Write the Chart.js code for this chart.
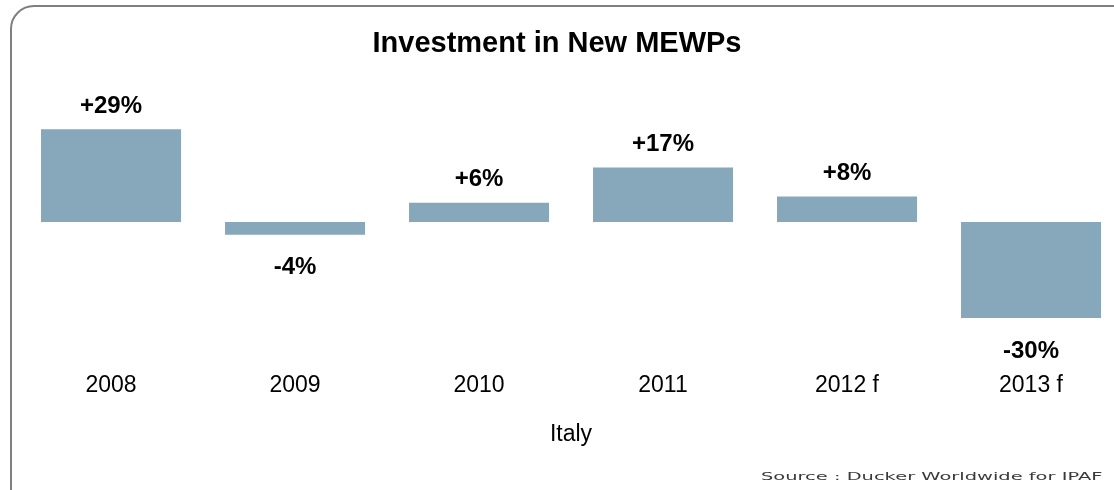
<!DOCTYPE html>
<html>
<head>
<meta charset="utf-8">
<script src="https://cdn.jsdelivr.net/npm/chart.js@4"></script>
<style>
    html, body { margin: 0; padding: 0; background: #fff; overflow: hidden; }
    #wrap { position: relative; width: 1114px; height: 490px; overflow: hidden; }
    #frame {
        position: absolute; left: 10px; top: 5px; width: 1140px; height: 520px;
        border: 2px solid #7f7f7f; border-radius: 24px; box-sizing: border-box;
    }
    #title {
        position: absolute; left: 0; top: 28px; width: 1114px; text-align: center;
        font: bold 29px "Liberation Sans", Arial, sans-serif; line-height: 29px; color: #000;
    }
    #source {
        position: absolute; left: 761px; top: 471px; white-space: nowrap;
        font: 11px "DejaVu Sans", sans-serif; line-height: 12px; color: #3a3a3a;
        transform-origin: left center;
    }
    canvas { position: absolute; left: 0; top: 0; }
</style>
</head>
<body>
<div id="wrap">
    <div id="frame"></div>
    <canvas id="mewpChart" width="1142" height="490"></canvas>
    <div id="title">Investment in New MEWPs</div>
    <div id="source">Source : Ducker Worldwide for IPAF</div>
</div>
<script>
const years = ['2008', '2009', '2010', '2011', '2012 f', '2013 f'];
const growth = [29, -4, 6, 17, 8, -30];
const countryLabel = 'Italy';

// value labels above / below each bar
const valueLabels = {
    id: 'valueLabels',
    afterDatasetsDraw(chart) {
        const ctx = chart.ctx;
        const meta = chart.getDatasetMeta(0);
        ctx.save();
        ctx.font = 'bold 24px "Liberation Sans", Arial, sans-serif';
        ctx.fillStyle = '#000';
        ctx.textAlign = 'center';
        ctx.textBaseline = 'middle';
        meta.data.forEach((bar, i) => {
            const v = growth[i];
            const text = (v > 0 ? '+' : '') + v + '%';
            const y = v >= 0 ? bar.y - 23 : bar.y + 33;
            ctx.fillText(text, bar.x, y);
        });
        ctx.restore();
    }
};

const ctx = document.getElementById('mewpChart').getContext('2d');
new Chart(ctx, {
    type: 'bar',
    data: {
        labels: years,
        datasets: [{
            data: growth,
            backgroundColor: '#87a7ba',
            borderWidth: 0,
            barPercentage: 0.761,
            categoryPercentage: 1
        }]
    },
    options: {
        responsive: false,
        animation: false,
        layout: {
            padding: { left: 19, right: 19, top: 110, bottom: 0 }
        },
        plugins: {
            legend: { display: false },
            tooltip: { enabled: false }
        },
        scales: {
            x: {
                afterFit: (scale) => { scale.height = 156; },
                grid: { display: false, drawTicks: false },
                border: { display: false },
                ticks: {
                    color: '#000',
                    padding: 38,
                    font: { size: 23, family: '"Liberation Sans", Arial, sans-serif' }
                },
                title: {
                    display: true,
                    text: countryLabel,
                    color: '#000',
                    padding: { top: 0, bottom: 42 },
                    font: { size: 23, family: '"Liberation Sans", Arial, sans-serif' }
                }
            },
            y: {
                display: false,
                min: -35,
                max: 35
            }
        }
    },
    plugins: [valueLabels]
});

// stretch the source note to its width in the picture
const src = document.getElementById('source');
src.style.transform = 'scaleX(' + (341 / src.offsetWidth) + ')';
</script>
</body>
</html>
